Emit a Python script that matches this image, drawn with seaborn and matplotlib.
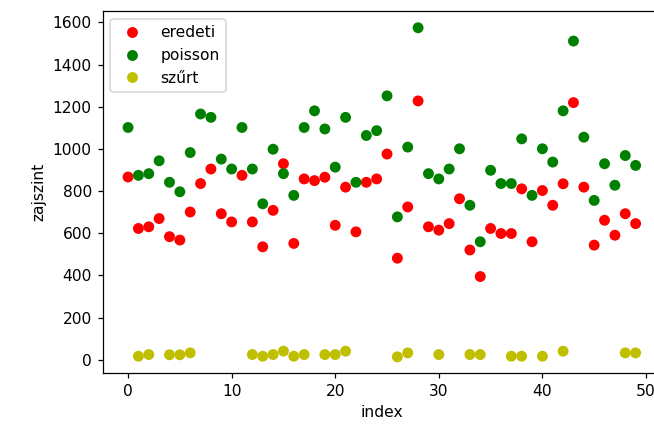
import numpy as np
import pandas as pd
import matplotlib
matplotlib.use("Agg")
import matplotlib.pyplot as plt
import seaborn as sns

# zajszint adatok (leolvasva)
index = list(range(50))

eredeti = [867, 623, 631, 670, 584, 568, 701, 836, 905, 693,
           654, 875, 654, 536, 709, 930, 552, 858, 850, 866,
           638, 819, 607, 842, 858, 976, 482, 725, 1228, 631,
           615, 646, 764, 521, 395, 623, 599, 599, 811, 560,
           803, 733, 835, 1220, 819, 544, 662, 591, 693, 646]

poisson = [1102, 875, 883, 944, 842, 797, 983, 1166, 1150, 952,
           905, 1102, 905, 740, 999, 883, 780, 1102, 1181, 1095,
           914, 1150, 842, 1064, 1087, 1252, 678, 1009, 1575, 883,
           858, 905, 1001, 733, 560, 899, 836, 836, 1048, 780,
           1001, 938, 1181, 1512, 1056, 756, 930, 828, 969, 922]

nan = np.nan
szurt = [nan, 17, 25, nan, 24, 24, 33, nan, nan, nan,
         nan, nan, 25, 17, 25, 41, 17, 25, nan, 25,
         25, 41, nan, nan, nan, nan, 14, 33, nan, nan,
         25, nan, nan, 25, 25, nan, nan, 17, 17, nan,
         17, nan, 41, nan, nan, nan, nan, nan, 33, 33]

series_names = ["eredeti", "poisson", "szűrt"]
colors = {"eredeti": "r", "poisson": "g", "szűrt": "y"}

df = pd.concat([
    pd.DataFrame({"index": index, "zajszint": eredeti, "sorozat": "eredeti"}),
    pd.DataFrame({"index": index, "zajszint": poisson, "sorozat": "poisson"}),
    pd.DataFrame({"index": index, "zajszint": szurt, "sorozat": "szűrt"}),
]).dropna()

DPI = 112
fig = plt.figure(figsize=(654 / DPI, 425 / DPI), dpi=DPI)
ax = fig.add_axes([0.157, 0.1216, 0.8537, 0.8518])

sns.scatterplot(data=df, x="index", y="zajszint", hue="sorozat",
                hue_order=series_names, palette=colors,
                s=49, linewidth=0, ax=ax)

sns.move_legend(ax, "upper left", title=None)

ax.set_xlabel("index")
ax.set_ylabel("zajszint")
ax.set_xticks([0, 10, 20, 30, 40, 50])

fig.savefig("out.png", dpi=DPI)
